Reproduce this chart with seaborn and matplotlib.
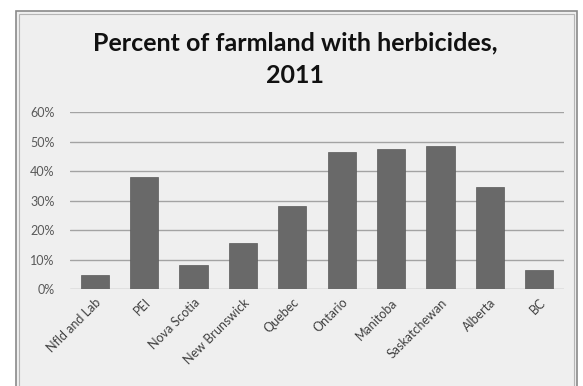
import matplotlib.pyplot as plt
import seaborn as sns
from matplotlib.patches import Rectangle
from matplotlib.ticker import PercentFormatter

sns.set_theme(style="white")
plt.rcParams['font.family'] = ['Lato', 'DejaVu Sans']

provinces = ["Nfld and Lab", "PEI", "Nova Scotia", "New Brunswick", "Quebec",
             "Ontario", "Manitoba", "Saskatchewan", "Alberta", "BC"]
pct_herbicides = [0.05, 0.38, 0.081, 0.157, 0.281, 0.465, 0.475, 0.485, 0.345, 0.064]
y_ticks = [0, 0.1, 0.2, 0.3, 0.4, 0.5, 0.6]

bg = "#efefef"
fig = plt.figure(figsize=(5.83, 3.86), dpi=100)
fig.patch.set_facecolor("white")

# chart frame (double gray border)
fig.patches.append(Rectangle((16 / 583, -0.05), 561 / 583, 1 - 11 / 386 + 0.05,
                             transform=fig.transFigure, facecolor=bg,
                             edgecolor="#8a8a8a", linewidth=1.2, zorder=-2))
fig.patches.append(Rectangle((19 / 583, -0.05), 555 / 583, 1 - 14 / 386 + 0.05,
                             transform=fig.transFigure, facecolor="none",
                             edgecolor="#b5b5b5", linewidth=0.8, zorder=-1))

ax = fig.add_axes([70 / 583, 0.2505, 494 / 583, 0.4593])
ax.set_facecolor("none")

sns.barplot(x=provinces, y=pct_herbicides, color="#696969", width=0.57,
            saturation=1, edgecolor="#5a5a5a", linewidth=0.5, ax=ax, zorder=3)

ax.set_ylim(0, 0.6)
ax.set_xlim(-0.5, len(provinces) - 0.5)
ax.set_yticks(y_ticks)
ax.yaxis.set_major_formatter(PercentFormatter(1.0, decimals=0))
for t in y_ticks:
    ax.axhline(t, color="#a3a3a3", linewidth=1, zorder=1)
for s in ax.spines.values():
    s.set_visible(False)

ax.tick_params(axis="y", labelsize=9, labelcolor="#595959", length=0, pad=11)
ax.tick_params(axis="x", labelsize=9, labelcolor="#404040", length=0, pad=5)
plt.setp(ax.get_xticklabels(), rotation=45, ha="right", rotation_mode="anchor")
ax.set_xlabel("")
ax.set_ylabel("")

fig.text(0.506, 1 - 59 / 386, "Percent of farmland with herbicides,\n2011",
         ha="center", va="center", fontsize=18, fontweight="bold",
         color="#111111", linespacing=1.5)

fig.savefig("out.png", dpi=100)
